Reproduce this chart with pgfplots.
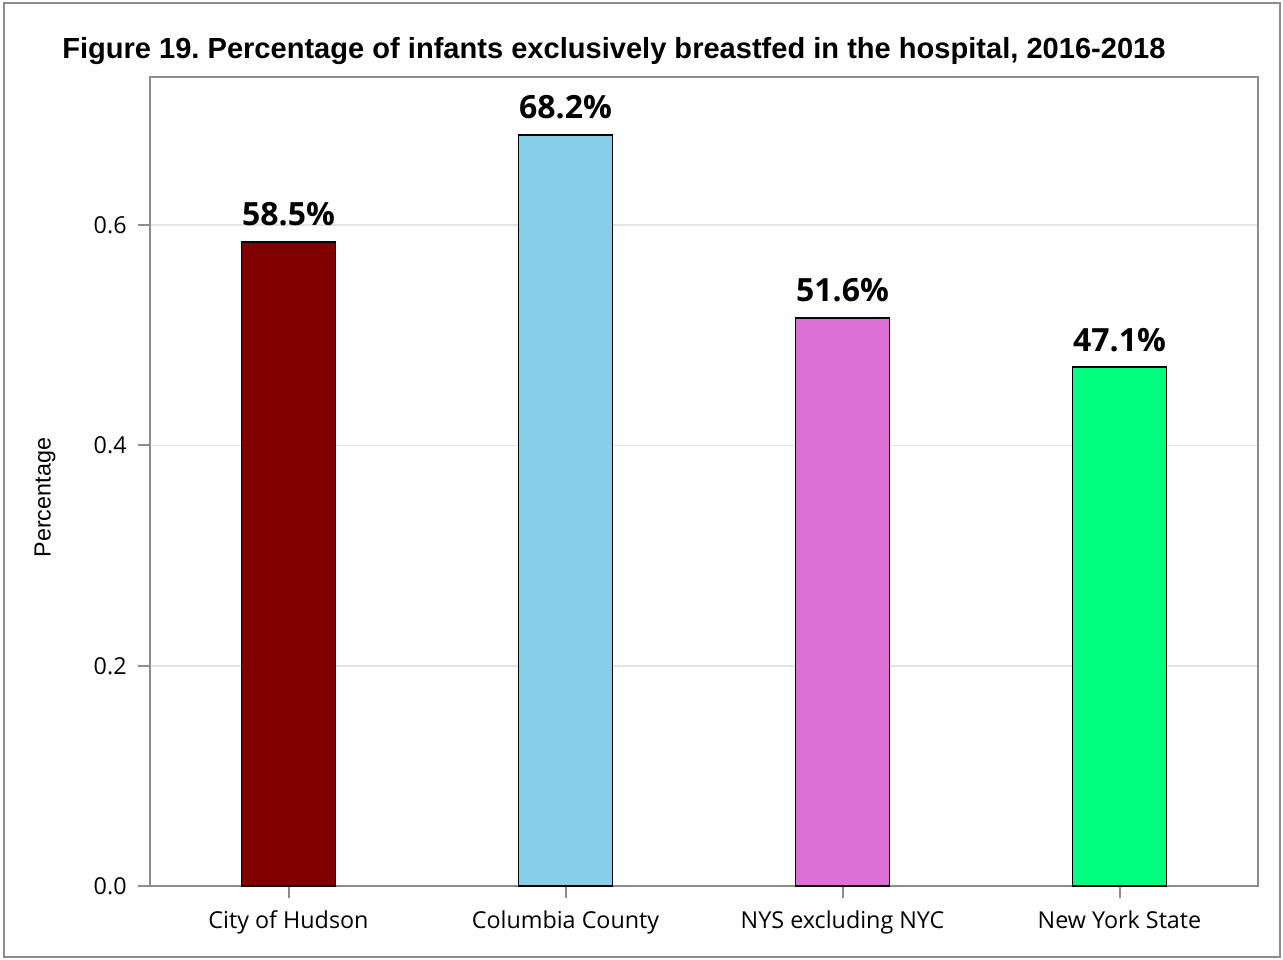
\documentclass[border=0pt]{standalone}
\usepackage{pgfplots}
\pgfplotsset{compat=1.18}
\usepackage{fontspec}
\setmainfont{Liberation Sans}
\newfontfamily\labfont{Open Sans}
\frenchspacing
\definecolor{axgray}{HTML}{8C8C8C}
\definecolor{gridgray}{HTML}{E3E3E3}
\definecolor{c1}{HTML}{800000}
\definecolor{c2}{HTML}{87CEEB}
\definecolor{c3}{HTML}{DA70D6}
\definecolor{c4}{HTML}{00FF7F}
\begin{document}
\begin{tikzpicture}
\path[use as bounding box] (0pt,0pt) rectangle (962.25pt,720pt);
\draw[axgray,line width=1.5pt] (3pt,2.25pt) rectangle (960pt,717.75pt);
\node[anchor=base west,font=\bfseries\fontsize{21.8}{24}\selectfont,inner sep=0pt] at (46.5pt,676pt) {Figure 19. Percentage of infants exclusively breastfed in the hospital, 2016-2018};
\begin{axis}[
  at={(112.5pt,55.5pt)}, anchor=south west,
  scale only axis, width=831pt, height=606.75pt,
  xmin=-0.5, xmax=3.5, ymin=0, ymax=0.7345,
  xtick={0,1,2,3},
  xticklabels={City of Hudson,Columbia County,NYS excluding NYC,New York State},
  ytick={0,0.2,0.4,0.6},
  yticklabel style={/pgf/number format/fixed,/pgf/number format/fixed zerofill,/pgf/number format/precision=1,xshift=-5pt},
  xticklabel style={yshift=-6pt},
  /pgf/number format/assume math mode=true,
  ticklabel style={font=\labfont\fontsize{17.5}{20}\selectfont},
  ylabel={Percentage}, ylabel style={font=\fontsize{17.5}{20}\selectfont,at={(axis description cs:-0.0948,0.48)},anchor=center},
  axis line style={axgray,line width=1.6pt},
  tick style={axgray,line width=1.5pt},
  tick align=outside, major tick length=9pt,
  xtick pos=bottom, ytick pos=left,
  ymajorgrids, grid style={gridgray,line width=1.2pt},
  ybar, bar width=70.5pt, bar shift=0pt,
  nodes near coords, point meta=explicit symbolic,
  nodes near coords style={font=\labfont\bfseries\fontsize{24}{26}\selectfont,black,inner sep=0pt,anchor=base,yshift=12pt},
  clip=false,
]
\addplot[fill=c1,draw=black,line width=1.4pt] coordinates {(0,0.585) [58.5\%]};
\addplot[fill=c2,draw=black,line width=1.4pt] coordinates {(1,0.682) [68.2\%]};
\addplot[fill=c3,draw=black,line width=1.4pt] coordinates {(2,0.516) [51.6\%]};
\addplot[fill=c4,draw=black,line width=1.4pt] coordinates {(3,0.471) [47.1\%]};
\end{axis}
\end{tikzpicture}
\end{document}
